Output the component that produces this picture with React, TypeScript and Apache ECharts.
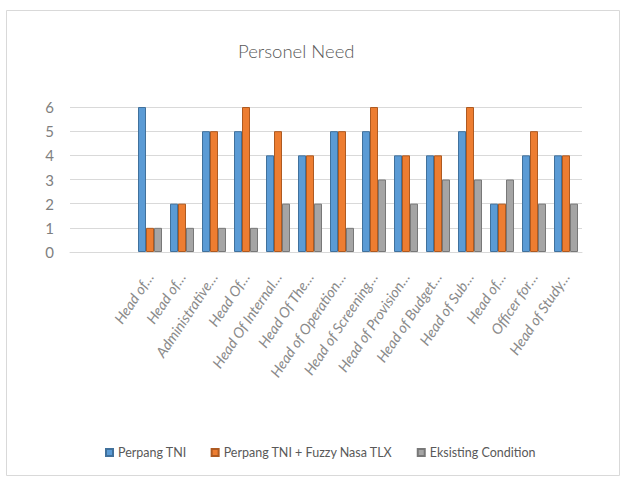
import React, { useEffect, useRef } from "react";
import * as echarts from "echarts";

const categories = [
  "", "",
  "Head of…", "Head of…", "Administrative…", "Head Of…", "Head Of Internal…",
  "Head Of The…", "Head of Operation…", "Head of Screening…", "Head of Provision…",
  "Head of Budget…", "Head of Sub…", "Head of…", "Officer for…", "Head of Study…",
];
const perpang = [null, null, 6, 2, 5, 5, 4, 4, 5, 5, 4, 4, 5, 2, 4, 4];
const perpangFuzzy = [null, null, 1, 2, 5, 6, 5, 4, 5, 6, 4, 4, 6, 2, 5, 4];
const existing = [null, null, 1, 1, 1, 1, 2, 2, 1, 3, 2, 3, 3, 3, 2, 2];
const seriesNames = ["Perpang TNI", "Perpang TNI + Fuzzy Nasa TLX", "Eksisting Condition"];
const yTicks = [0, 1, 2, 3, 4, 5, 6];

export default function App() {
  const ref = useRef<HTMLDivElement>(null);
  useEffect(() => {
    if (!ref.current) return;
    const chart = echarts.init(ref.current, null, { renderer: "svg" });
    const font = "Lato, 'Open Sans', sans-serif";
    const mk = (name: string, data: any[], color: string, border: string) => ({
      name,
      type: "bar",
      data,
      barWidth: 8,
      barGap: "0%",
      itemStyle: { color, borderColor: border, borderWidth: 1 },
    });
    chart.setOption({
      animation: false,
      backgroundColor: "#ffffff",
      textStyle: { fontFamily: font },
      title: {
        text: "Personel Need",
        left: 233,
        top: 36,
        textStyle: { fontSize: 18.5, fontWeight: 300, color: "#595959", fontFamily: font },
      },
      graphic: [
        {
          type: "rect",
          shape: { x: 6.5, y: 10.5, width: 613, height: 465 },
          style: { fill: "none", stroke: "#d9d9d9", lineWidth: 1 },
          silent: true,
        },
      ],
      legend: {
        data: seriesNames,
        left: 100,
        top: 441,
        itemWidth: 7,
        itemHeight: 7,
        itemGap: 24,
        icon: "rect",
        textStyle: { fontSize: 12.5, color: "#595959", fontFamily: font },
      },
      grid: { left: 70, right: 42, top: 107, bottom: 225, containLabel: false },
      xAxis: {
        type: "category",
        data: categories,
        axisLine: { lineStyle: { color: "#d9d9d9" } },
        axisTick: { show: false },
        axisLabel: {
          interval: 0,
          rotate: 56,
          margin: 22,
          fontSize: 14.5,
          fontStyle: "italic",
          color: "#8a8a8a",
          fontFamily: font,
        },
      },
      yAxis: {
        type: "value",
        min: yTicks[0],
        max: yTicks[yTicks.length - 1],
        interval: 1,
        axisLine: { show: false },
        axisTick: { show: false },
        splitLine: { lineStyle: { color: "#d9d9d9" } },
        axisLabel: { fontSize: 15, color: "#7f7f7f", margin: 16, fontFamily: font },
      },
      series: [
        mk(seriesNames[0], perpang, "#5B9BD5", "#41719C"),
        mk(seriesNames[1], perpangFuzzy, "#ED7D31", "#AE5A21"),
        mk(seriesNames[2], existing, "#A5A5A5", "#787878"),
      ],
    });
    return () => chart.dispose();
  }, []);
  return (
    <div
      ref={ref}
      style={{ position: "absolute", left: 0, top: 0, width: 624, height: 477 }}
    />
  );
}
